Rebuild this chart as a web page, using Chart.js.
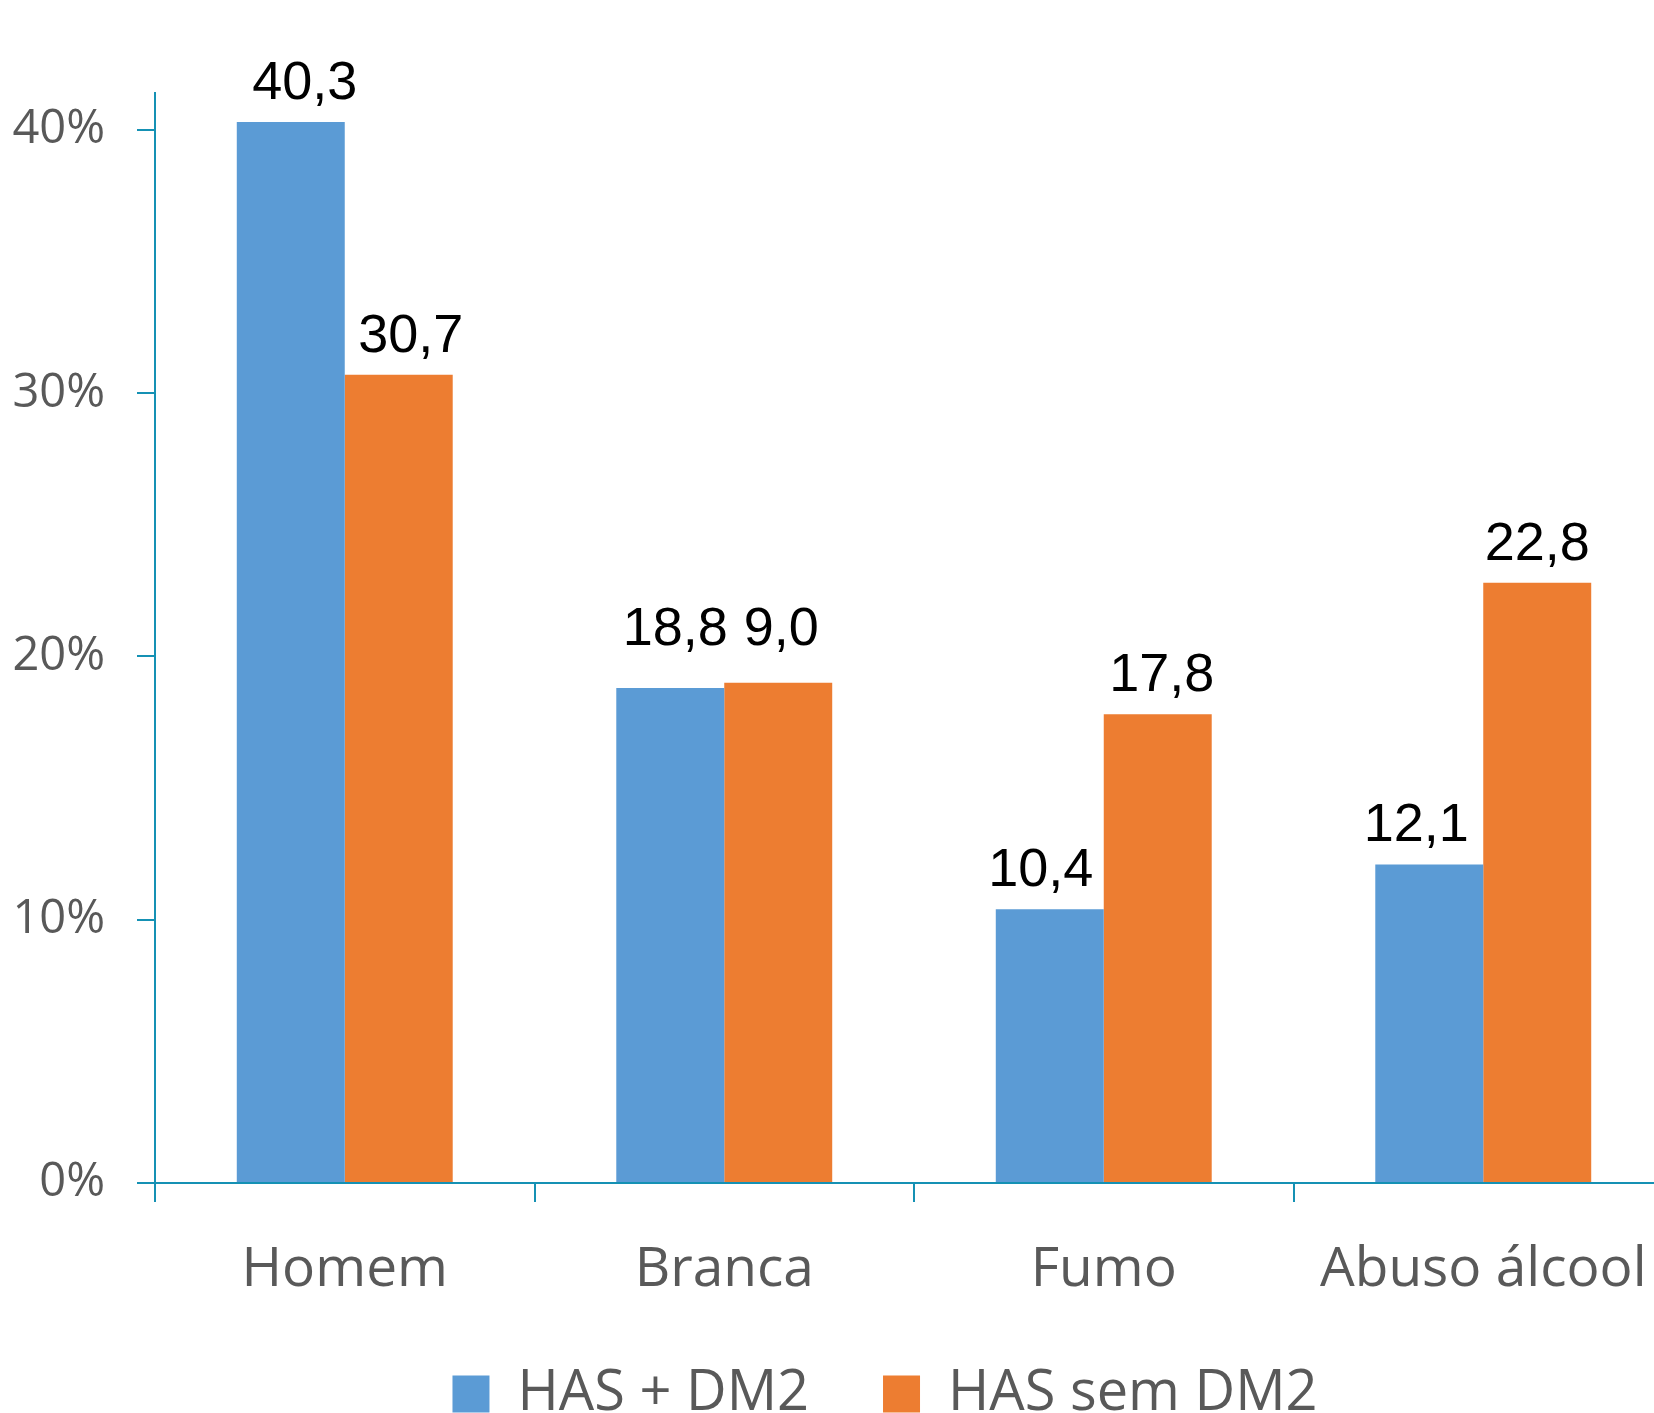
<!DOCTYPE html>
<html>
<head>
<meta charset="utf-8">
<script src="https://cdn.jsdelivr.net/npm/chart.js@4/dist/chart.umd.min.js"></script>
<style>
  html, body { margin: 0; padding: 0; overflow: hidden; background: #fff; }
  #wrap { width: 1700px; height: 1432px; }
</style>
</head>
<body>
<div id="wrap"><canvas id="chart"></canvas></div>
<script>
const categories = ["Homem", "Branca", "Fumo", "Abuso álcool"];
const hasDm2 = [40.3, 18.8, 10.4, 12.1];
const hasSemDm2 = [30.7, 19.0, 17.8, 22.8];
// labels as printed on the original (the "9,0" is cut there too)
const hasDm2Labels = ["40,3", "18,8", "10,4", "12,1"];
const hasSemDm2Labels = ["30,7", "9,0", "17,8", "22,8"];
const yMax = 41.4;

const axisColor = "#1591b4";
const textGray = "#595959";

// draws the value above every bar
const barLabels = {
  id: "barLabels",
  afterLayout(chart, args, opts) {
    // the legend sits centred under the plot, not the whole canvas
    if (chart.legend) chart.legend.left = opts.legendLeft;
  },
  afterDatasetsDraw(chart, args, opts) {
    const ctx = chart.ctx;
    ctx.save();
    ctx.font = opts.font;
    ctx.fillStyle = "#000";
    ctx.textAlign = "center";
    ctx.textBaseline = "alphabetic";
    const metas = chart.data.datasets.map((ds, di) => chart.getDatasetMeta(di));
    chart.data.datasets.forEach((ds, di) => {
      metas[di].data.forEach((bar, i) => {
        let y = bar.y - opts.gap;
        if (opts.shared.includes(i)) {
          // both labels of this group sit on one line
          y = Math.min(...metas.map((m) => m.data[i].y)) - opts.gap - opts.sharedLift;
        }
        ctx.fillText(ds.valueLabels[i], bar.x + opts.nudgeX[di][i], y);
      });
    });
    ctx.restore();
  },
};

const ctx = document.getElementById("chart").getContext("2d");
new Chart(ctx, {
  type: "bar",
  data: {
    labels: categories,
    datasets: [
      {
        label: "HAS + DM2",
        data: hasDm2,
        valueLabels: hasDm2Labels,
        backgroundColor: "#5b9bd5",
      },
      {
        label: "HAS sem DM2",
        data: hasSemDm2,
        valueLabels: hasSemDm2Labels,
        backgroundColor: "#ed7d31",
      },
    ],
  },
  plugins: [barLabels],
  options: {
    responsive: true,
    maintainAspectRatio: false,
    animation: false,
    categoryPercentage: 0.569,
    barPercentage: 1,
    layout: { padding: { top: 93, left: 0, right: 27, bottom: 0 } },
    scales: {
      x: {
        grid: {
          offset: true,
          drawOnChartArea: false,
          drawTicks: true,
          tickLength: 19,
          color: axisColor,
          lineWidth: 2,
        },
        border: { color: axisColor, width: 2 },
        ticks: {
          color: textGray,
          padding: 35,
          font: { family: "Open Sans", size: 55 },
          maxRotation: 0,
        },
        afterFit(scale) {
          scale.height = 109;
        },
      },
      y: {
        min: 0,
        max: yMax,
        grid: {
          drawOnChartArea: false,
          drawTicks: true,
          tickLength: 18,
          color: axisColor,
          lineWidth: 2,
        },
        border: { color: axisColor, width: 2 },
        ticks: {
          stepSize: 10,
          includeBounds: false,
          color: textGray,
          padding: 32,
          font: { family: "Open Sans", size: 47 },
          callback: (v) => v + "%",
        },
        afterFit(scale) {
          scale.width = 155;
        },
      },
    },
    plugins: {
      legend: {
        position: "bottom",
        labels: {
          boxWidth: 37,
          boxHeight: 37,
          padding: 74,
          color: textGray,
          font: { family: "Open Sans", size: 56 },
        },
      },
      tooltip: { enabled: false },
      barLabels: {
        font: "54px 'Liberation Sans'",
        gap: 23,
        shared: [1],
        sharedLift: 15,
        nudgeX: [[14, 5, -9, -13], [12, 3, 4, 0]],
        legendLeft: 97,
      },
    },
  },
});
</script>
</body>
</html>
